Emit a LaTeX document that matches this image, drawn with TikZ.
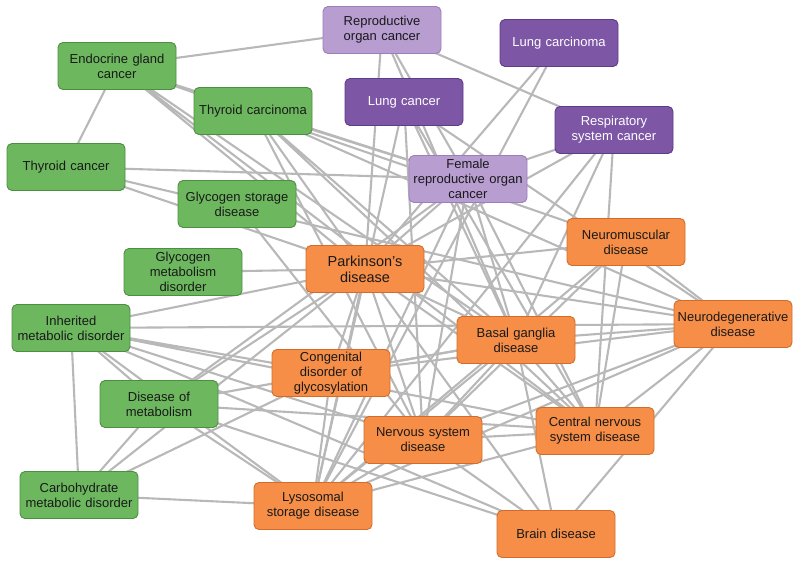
\documentclass[tikz,border=0pt]{standalone}
\usepackage{fontspec}
\setmainfont{Liberation Sans}
\usetikzlibrary{backgrounds}

\definecolor{greenfill}{HTML}{6DB85F}
\definecolor{greenline}{HTML}{4C8F41}
\definecolor{violetfill}{HTML}{7D56A6}
\definecolor{violetline}{HTML}{5E3C88}
\definecolor{lilacfill}{HTML}{B89DD1}
\definecolor{lilacline}{HTML}{9C7FBA}
\definecolor{orangefill}{HTML}{F68E47}
\definecolor{orangeline}{HTML}{D36C2A}
\definecolor{edgegray}{HTML}{B8B8B8}

\tikzset{
  term/.style={rounded corners=5pt, line width=0.9pt, minimum width=118pt, minimum height=47pt,
    text width=116pt, align=center, inner sep=1pt, text=black!90,
    font=\fontsize{13}{15}\selectfont},
  metab/.style={term, fill=greenfill, draw=greenline},
  cancer/.style={term, fill=violetfill, draw=violetline, text=white},
  repro/.style={term, fill=lilacfill, draw=lilacline},
  neuro/.style={term, fill=orangefill, draw=orangeline},
  link/.style={draw=edgegray, line width=2.1pt}
}

\begin{document}
\begin{tikzpicture}[x=1pt, y=-1pt]
	\useasboundingbox (0,0) rectangle (800,565);

	% metabolic and endocrine terms
	\node[metab] (egc) at (117,66) {Endocrine gland\\cancer};
	\node[metab] (tca) at (253,111) {Thyroid carcinoma};
	\node[metab] (tc) at (66,167) {Thyroid cancer};
	\node[metab] (gsd) at (237,204) {Glycogen storage\\disease};
	\node[metab] (gmd) at (183,272) {Glycogen\\metabolism\\disorder};
	\node[metab] (imd) at (71,328) {Inherited\\metabolic disorder};
	\node[metab] (dm) at (159,404) {Disease of\\metabolism};
	\node[metab] (cmd) at (79,495) {Carbohydrate\\metabolic disorder};

	% cancers
	\node[repro] (roc) at (382,30) {Reproductive\\organ cancer};
	\node[cancer] (lca) at (559,43) {Lung carcinoma};
	\node[cancer] (lc) at (404,102) {Lung cancer};
	\node[cancer] (rsc) at (614,130) {Respiratory\\system cancer};
	\node[repro] (froc) at (468,179) {Female\\reproductive organ\\cancer};

	% nervous system
	\node[neuro, font=\fontsize{14.5}{16}\selectfont] (pd) at (365,269) {Parkinson's\\disease};
	\node[neuro] (nmd) at (626,242) {Neuromuscular\\disease};
	\node[neuro] (ndd) at (733,324) {Neurodegenerative\\disease};
	\node[neuro] (bgd) at (516,340) {Basal ganglia\\disease};
	\node[neuro] (cdg) at (331,373) {Congenital\\disorder of\\glycosylation};
	\node[neuro] (nsd) at (423,440) {Nervous system\\disease};
	\node[neuro] (cnsd) at (595,431) {Central nervous\\system disease};
	\node[neuro] (lsd) at (313,506) {Lysosomal\\storage disease};
	\node[neuro] (bd) at (556,534) {Brain disease};

	\begin{scope}[on background layer, every path/.style={link}]
	\draw (egc.center) -- (roc.center) (egc.center) -- (tc.center) (egc.center) -- (froc.center)
	      (egc.center) -- (nmd.center) (egc.center) -- (pd.center) (egc.center) -- (bgd.center)
	      (egc.center) -- (cnsd.center);%endocrine
	\draw (tc.center) -- (froc.center) (tc.center) -- (pd.center) (tc.center) -- (ndd.center);
	\draw (tca.center) -- (pd.center) (tca.center) -- (bgd.center) (tca.center) -- (cnsd.center)
	      (tca.center) -- (ndd.center) (tca.center) -- (nsd.center) (tca.center) -- (froc.center);
	\draw (roc.center) -- (pd.center) (roc.center) -- (froc.center) (roc.center) -- (bgd.center)
	      (roc.center) -- (rsc.center);
	\draw (lca.center) -- (pd.center) (lca.center) -- (lsd.center);
	\draw (lc.center) -- (nsd.center) (lc.center) -- (cnsd.center) (lc.center) -- (ndd.center)
	      (lc.center) -- (bgd.center) (lc.center) -- (lsd.center);
	\draw (rsc.center) -- (cnsd.center) (rsc.center) -- (froc.center) (rsc.center) -- (pd.center)
	      (rsc.center) -- (bgd.center) (rsc.center) -- (lsd.center);
	\draw (froc.center) -- (nsd.center) (froc.center) -- (lsd.center) (froc.center) -- (bgd.center)
	      (froc.center) -- (cnsd.center) (froc.center) -- (pd.center)
	      (froc.center) -- (dm.center);%female
	\draw (gsd.center) -- (nsd.center) (gmd.center) -- (pd.center);
	\draw (imd.center) -- (cmd.center) (imd.center) -- (pd.center) (imd.center) -- (ndd.center)
	      (imd.center) -- (cdg.center) (imd.center) -- (cnsd.center) (imd.center) -- (nsd.center)
	      (imd.center) -- (lsd.center) (imd.center) -- (dm.center) (imd.center) -- (bd.center);
	\draw (dm.center) -- (cmd.center) (dm.center) -- (cdg.center) (dm.center) -- (bgd.center)
	      (dm.center) -- (cnsd.center) (dm.center) -- (bd.center) (dm.center) -- (lsd.center)
	      (dm.center) -- (pd.center);
	\draw (cmd.center) -- (lsd.center) (cmd.center) -- (pd.center) (cmd.center) -- (cdg.center);
	\draw (cdg.center) -- (pd.center) (cdg.center) -- (lsd.center) (cdg.center) -- (ndd.center)
	      (cdg.center) -- (bgd.center);
	\draw (pd.center) -- (nmd.center) (pd.center) -- (ndd.center) (pd.center) -- (bgd.center)
	      (pd.center) -- (nsd.center) (pd.center) -- (cnsd.center) (pd.center) -- (lsd.center)
	      (pd.center) -- (bd.center);%parkinson
	\draw (nmd.center) -- (ndd.center) (nmd.center) -- (nsd.center) (nmd.center) -- (lsd.center)
	      (nmd.center) -- (cnsd.center);
	\draw (ndd.center) -- (nsd.center) (ndd.center) -- (lsd.center) (ndd.center) -- (cnsd.center)
	      (ndd.center) -- (bd.center) (ndd.center) -- (bgd.center);
	\draw (bgd.center) -- (nsd.center) (bgd.center) -- (cnsd.center) (bgd.center) -- (bd.center)
	      (bgd.center) -- (lsd.center);
	\draw (nsd.center) -- (cnsd.center) (nsd.center) -- (bd.center) (nsd.center) -- (lsd.center);
	\draw (cnsd.center) -- (lsd.center);
	\end{scope}
\end{tikzpicture}
\end{document}
